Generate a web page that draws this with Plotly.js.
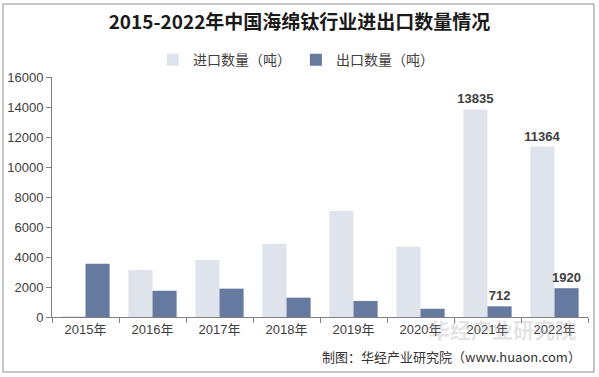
<!DOCTYPE html>
<html>
<head>
<meta charset="utf-8">
<script src="https://cdn.plot.ly/plotly-3.0.1.min.js"></script>
<style>
html,body{margin:0;padding:0;background:#fff;}
#chart{width:599px;height:377px;}
</style>
</head>
<body>
<div id="chart"></div>
<script>
const years = ["2015年","2016年","2017年","2018年","2019年","2020年","2021年","2022年"];
const importQty = [70, 3130, 3800, 4890, 7070, 4690, 13835, 11364];
const exportQty = [3550, 1750, 1890, 1290, 1070, 550, 712, 1920];
const importLabels = ["", "", "", "", "", "", "13835", "11364"];
const exportLabels = ["", "", "", "", "", "", "712", "1920"];

const labelFont = {family: "Arial, 'Liberation Sans', sans-serif", size: 13, color: "#404040", weight: "bold"};

const traces = [
  {
    type: "bar", name: "进口数量（吨）", x: years, y: importQty,
    marker: {color: "#DFE3EC"},
    text: importLabels, textposition: "outside", textfont: labelFont,
    constraintext: "none", cliponaxis: false, hoverinfo: "x+y"
  },
  {
    type: "bar", name: "出口数量（吨）", x: years, y: exportQty,
    marker: {color: "#66799F"},
    text: exportLabels, textposition: "outside", textfont: labelFont,
    constraintext: "none", cliponaxis: false, hoverinfo: "x+y"
  }
];

const layout = {
  width: 599, height: 377,
  margin: {l: 52, r: 11, t: 77, b: 60},
  paper_bgcolor: "#fff", plot_bgcolor: "#fff",
  font: {family: "Arial, 'Liberation Sans', 'Noto Sans CJK SC', sans-serif", size: 12, color: "#404040"},
  title: {
    text: "2015-2022年中国海绵钛行业进出口数量情况",
    font: {family: "'Noto Sans CJK SC', sans-serif", size: 19, color: "#1a1a1a", weight: "bold"},
    x: 0.5, xanchor: "center", y: 0.94, yanchor: "middle"
  },
  showlegend: true,
  legend: {
    orientation: "h", x: 0.455, xanchor: "center", y: 1.07, yanchor: "middle",
    font: {family: "'Noto Sans CJK SC', sans-serif", size: 14, color: "#404040"},
    itemwidth: 30, traceorder: "normal"
  },
  barmode: "group",
  bargap: 0.28,
  bargroupgap: 0,
  xaxis: {
    type: "category",
    showline: true, linecolor: "#808080", linewidth: 1,
    ticks: "outside", ticklen: 5, tickcolor: "#808080", tickson: "boundaries",
    tickfont: {family: "Arial, 'Liberation Sans', 'Noto Sans CJK SC', sans-serif", size: 13, color: "#404040"},
    showgrid: false, zeroline: false, fixedrange: true
  },
  yaxis: {
    range: [0, 16000], dtick: 2000, tick0: 0, tickformat: "d",
    showline: true, linecolor: "#808080", linewidth: 1,
    ticks: "outside", ticklen: 5, tickcolor: "#808080",
    tickfont: {family: "Arial, 'Liberation Sans', sans-serif", size: 13, color: "#404040"},
    showgrid: false, zeroline: false, fixedrange: true
  },
  shapes: [
    {type: "rect", xref: "paper", yref: "paper",
     x0: -49/536, x1: 1 + 6/536, y0: -55/240, y1: 1 + 73/240,
     line: {color: "#8c8c8c", width: 1}, fillcolor: "rgba(0,0,0,0)", layer: "below"}
  ],
  annotations: [
    {text: "制图：华经产业研究院（www.huaon.com）", xref: "paper", yref: "paper",
     x: 1 - 5/536, y: -39/240, xanchor: "right", yanchor: "middle", showarrow: false,
     font: {family: "'Noto Sans CJK SC', sans-serif", size: 13, color: "#333333"}},
    {text: "华经产业研究院", xref: "paper", yref: "paper",
     x: 1 - 10/536, y: -12/240, xanchor: "right", yanchor: "middle", showarrow: false,
     font: {family: "'Noto Sans CJK SC', sans-serif", size: 21, color: "rgba(160,160,160,0.3)", weight: "bold"}}
  ]
};

Plotly.newPlot("chart", traces, layout, {displayModeBar: false, staticPlot: true});
</script>
</body>
</html>
